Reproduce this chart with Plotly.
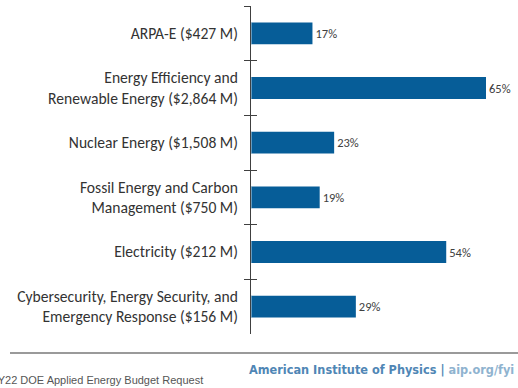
import plotly.graph_objects as go

# FY22 DOE applied energy budget request, percent change by office
categories = [
    "ARPA-E ($427 M)",
    "Energy Efficiency and<br>Renewable Energy ($2,864 M)",
    "Nuclear Energy ($1,508 M)",
    "Fossil Energy and Carbon<br>Management ($750 M)",
    "Electricity ($212 M)",
    "Cybersecurity, Energy Security, and<br>Emergency Response ($156 M)",
]
pct_change = [17, 65, 23, 19, 54, 29]
value_labels = [f"{v}%" for v in pct_change]

BAR_COLOR = "#065d98"
LABEL_FONT = "Carlito, Calibri, 'Open Sans', sans-serif"

fig = go.Figure()
fig.add_trace(go.Bar(
    y=categories,
    x=pct_change,
    orientation="h",
    marker=dict(color=BAR_COLOR, line=dict(width=0)),
    width=0.4,
    text=value_labels,
    textposition="outside",
    textfont=dict(family=LABEL_FONT, size=12.5, color="#404040"),
    cliponaxis=False,
    hoverinfo="skip",
))
# invisible twin used only for the inward half of the boundary ticks
fig.add_trace(go.Bar(
    y=categories, x=[0] * len(categories), orientation="h",
    yaxis="y2", marker=dict(color="rgba(0,0,0,0)"), hoverinfo="skip",
))

fig.update_layout(
    width=518, height=388,
    margin=dict(l=251, r=18, t=6, b=54),
    paper_bgcolor="white", plot_bgcolor="white",
    showlegend=False,
    bargap=0.6,
    xaxis=dict(range=[0, 65 * 249 / 235], visible=False, fixedrange=True),
    yaxis=dict(
        autorange="reversed",
        type="category",
        tickson="boundaries",
        ticks="outside", ticklen=6, tickcolor="#404040", tickwidth=1,
        showline=True, linecolor="#404040", linewidth=1,
        showgrid=False,
        ticklabelstandoff=9,
        tickfont=dict(family=LABEL_FONT, size=15.6, color="#333333"),
    ),
    yaxis2=dict(
        overlaying="y", side="left", anchor="x",
        autorange="reversed", type="category",
        tickson="boundaries",
        ticks="inside", ticklen=6, tickcolor="#404040", tickwidth=1,
        showticklabels=False, showgrid=False, showline=False,
    ),
    shapes=[dict(
        type="line", xref="paper", yref="paper",
        x0=(10 - 251) / 249, x1=(518 - 251) / 249,
        y0=-(353 - 334) / 328, y1=-(353 - 334) / 328,
        line=dict(color="#9a9a9a", width=2),
    )],
    annotations=[
        dict(
            xref="paper", yref="paper",
            x=(205 - 251) / 249, y=-(380 - 334) / 328,
            xanchor="right", yanchor="middle", showarrow=False,
            text="FY22 DOE Applied Energy Budget Request",
            font=dict(family="Liberation Sans, Arial, sans-serif", size=11, color="#555555"),
        ),
        dict(
            xref="paper", yref="paper",
            x=(247 - 251) / 249, y=-(369 - 334) / 328,
            xanchor="left", yanchor="middle", showarrow=False,
            text="American Institute of Physics <b>|</b> <span style='color:#8fb3cf'>aip.org/fyi</span>",
            font=dict(family="DejaVu Sans Condensed, sans-serif",
                      size=12.6, color="#4f86b5", weight=700),
        ),
    ],
)

fig.write_html("out.html")
